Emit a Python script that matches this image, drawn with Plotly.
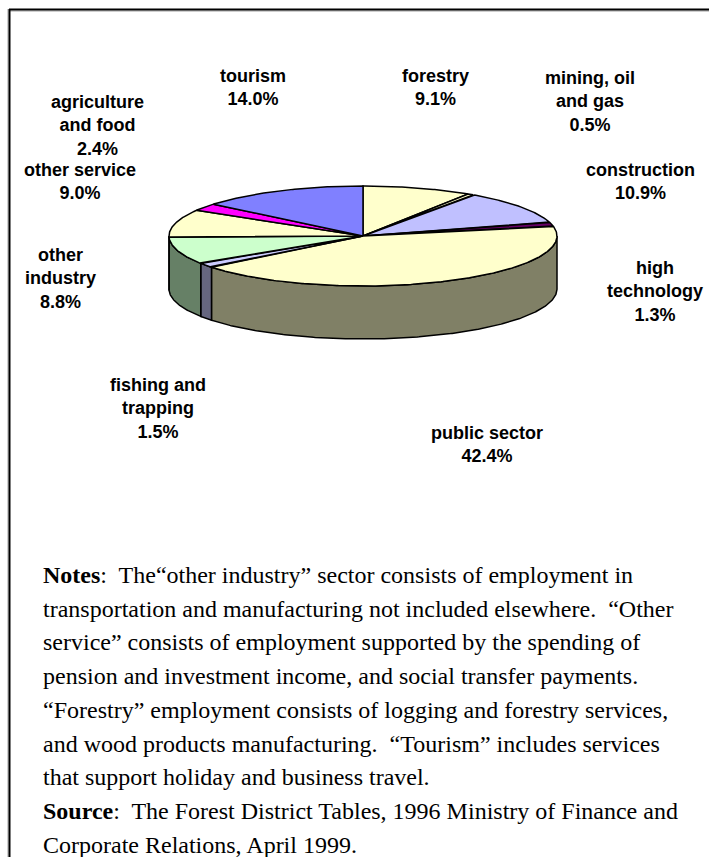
import numpy as np
import plotly.graph_objects as go

# ---------------- data ----------------
sectors = ["forestry", "mining, oil and gas", "construction", "high technology",
           "public sector", "fishing and trapping", "other industry",
           "other service", "agriculture and food", "tourism"]
shares = [9.1, 0.5, 10.9, 1.3, 42.4, 1.5, 8.8, 9.0, 2.4, 14.0]
label_lines = ["forestry", "mining, oil<br>and gas", "construction", "high<br>technology",
               "public sector", "fishing and<br>trapping", "other<br>industry",
               "other service", "agriculture<br>and food", "tourism"]

notes_lines = [
    "<b>Notes</b>:  The\u201cother industry\u201d sector consists of employment in",
    "transportation and manufacturing not included elsewhere.  \u201cOther",
    "service\u201d consists of employment supported by the spending of",
    "pension and investment income, and social transfer payments.",
    "\u201cForestry\u201d employment consists of logging and forestry services,",
    "and wood products manufacturing.  \u201cTourism\u201d includes services",
    "that support holiday and business travel.",
    "<b>Source</b>:  The Forest District Tables, 1996 Ministry of Finance and",
    "Corporate Relations, April 1999.",
]

# ---------------- styles / layout ----------------
face_colors = ["#FFFFCC", "#FFFFCC", "#C0C0FF", "#660066", "#FFFFCC",
               "#CCCCFF", "#CCFFCC", "#FFFFCC", "#FF00FF", "#8080FF"]
side_colors = ["#808066", "#808066", "#606080", "#330033", "#808066",
               "#666680", "#668066", "#808066", "#800080", "#404080"]
label_xy = [(435, 87), (590, 101), (640, 181), (655, 291), (487, 444),
            (158, 408), (60, 278), (80, 181), (97, 125), (253, 87)]

W, H = 709, 857
cx, cy, rx, ry, depth = 363, 236, 194, 50, 53


def arc(a, b, dy=0.0):
    n = max(2, int(abs(b - a) * 2) + 1)
    t = np.radians(np.linspace(a, b, n))
    return cx + rx * np.sin(t), cy - ry * np.cos(t) + dy


total = sum(shares)
bounds = np.concatenate([[0], np.cumsum(shares)]) / total * 360.0

fig = go.Figure()

# side walls (front half only)
for i in range(len(shares)):
    a = max(bounds[i], 90.0)
    b = min(bounds[i + 1], 270.0)
    if b <= a:
        continue
    xt, yt = arc(a, b)
    xb, yb = arc(b, a, depth)
    xs = np.concatenate([xt, xb, xt[:1]])
    ys = np.concatenate([yt, yb, yt[:1]])
    fig.add_trace(go.Scatter(x=xs, y=ys, mode="lines", fill="toself",
                             fillcolor=side_colors[i],
                             line=dict(color="black", width=1.5),
                             hoverinfo="skip", showlegend=False))

# top faces
for i in range(len(shares)):
    xa, ya = arc(bounds[i], bounds[i + 1])
    xs = np.concatenate([[cx], xa, [cx]])
    ys = np.concatenate([[cy], ya, [cy]])
    fig.add_trace(go.Scatter(x=xs, y=ys, mode="lines", fill="toself",
                             fillcolor=face_colors[i],
                             line=dict(color="black", width=1.5),
                             hoverinfo="skip", showlegend=False,
                             name=sectors[i]))

annotations = []
for i, (lx, ly) in enumerate(label_xy):
    annotations.append(dict(
        x=lx, y=ly, xref="x", yref="y", showarrow=False,
        text=f"<b>{label_lines[i]}<br>{shares[i]:.1f}%</b>",
        font=dict(family="Arial, Liberation Sans, sans-serif", size=18, color="black"),
        align="center", xanchor="center", yanchor="middle"))

y0, dy = 575, 33.7
for k, line in enumerate(notes_lines):
    annotations.append(dict(
        x=41, y=y0 + k * dy, xref="x", yref="y", showarrow=False,
        text=line, align="left", xanchor="left", yanchor="middle",
        font=dict(family="Times New Roman, Liberation Serif, serif", size=24, color="black")))

shapes = [
    dict(type="line", xref="x", yref="y", x0=9, x1=W, y0=11, y1=11,
         line=dict(color="#A0A0A0", width=1)),
    dict(type="line", xref="x", yref="y", x0=8, x1=8, y0=9, y1=H,
         line=dict(color="#A0A0A0", width=1)),
    dict(type="line", xref="x", yref="y", x0=9, x1=W, y0=9.5, y1=9.5,
         line=dict(color="black", width=2)),
    dict(type="line", xref="x", yref="y", x0=9.5, x1=9.5, y0=9, y1=H,
         line=dict(color="black", width=2)),
]

fig.update_layout(
    width=W, height=H, margin=dict(l=0, r=0, t=0, b=0),
    paper_bgcolor="white", plot_bgcolor="white",
    xaxis=dict(range=[0, W], visible=False, fixedrange=True),
    yaxis=dict(range=[H, 0], visible=False, fixedrange=True),
    annotations=annotations, shapes=shapes, showlegend=False,
)

fig.write_html("out.html")
